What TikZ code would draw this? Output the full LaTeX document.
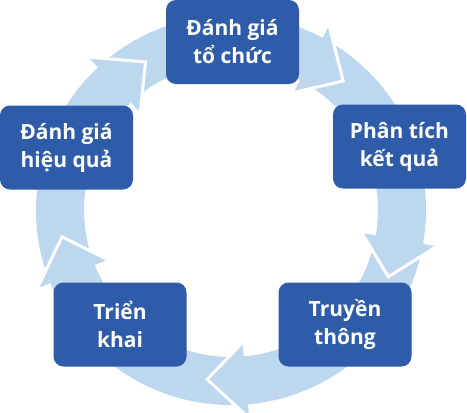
\documentclass[tikz,border=0pt]{standalone}
\usepackage{fontspec}
\setmainfont{Open Sans}
\usetikzlibrary{calc}
\definecolor{boxblue}{HTML}{2E5CA9}
\definecolor{ringblue}{HTML}{BDD7EE}
\begin{document}
\begin{tikzpicture}[x=1pt,y=1pt,
  stepbox/.style={draw=none, fill=boxblue, rounded corners=10pt, minimum width=133pt, minimum height=84pt, inner sep=0pt, text=white, font=\bfseries\fontsize{21}{28}\selectfont, align=center},
  headfill/.style={fill=ringblue},
  headedge/.style={draw=white, line width=3pt, line join=miter}]
\useasboundingbox (0,0) rectangle (467,-413);
\coordinate (c) at (231,-210);
\fill[ringblue, even odd rule] (c) circle (195pt) (c) circle (147pt);
\foreach \t [count=\i] in {49,-23,-98,-171,120} {
  \pgfmathsetmacro\b{\t+13}
  \coordinate (tip\i) at ($(c)+(\t:171)$);
  \coordinate (out\i) at ($(c)+(\b:209)$);
  \coordinate (in\i) at ($(c)+(\b:133)$);
  \fill[headfill] (tip\i) -- (out\i) -- (in\i) -- cycle;
  \draw[headedge] (out\i) -- (tip\i) -- (in\i);
}
\node[stepbox] (n1) at (232.5,-42) {Đánh giá\\tổ chức};
\node[stepbox] (n2) at (399.5,-146.5) {Phân tích\\kết quả};
\node[stepbox] (n3) at (345,-324.5) {Truyền\\thông};
\node[stepbox] (n4) at (120,-324.5) {Triển\\khai};
\node[stepbox] (n5) at (66.5,-147.5) {Đánh giá\\hiệu quả};
\end{tikzpicture}
\end{document}
